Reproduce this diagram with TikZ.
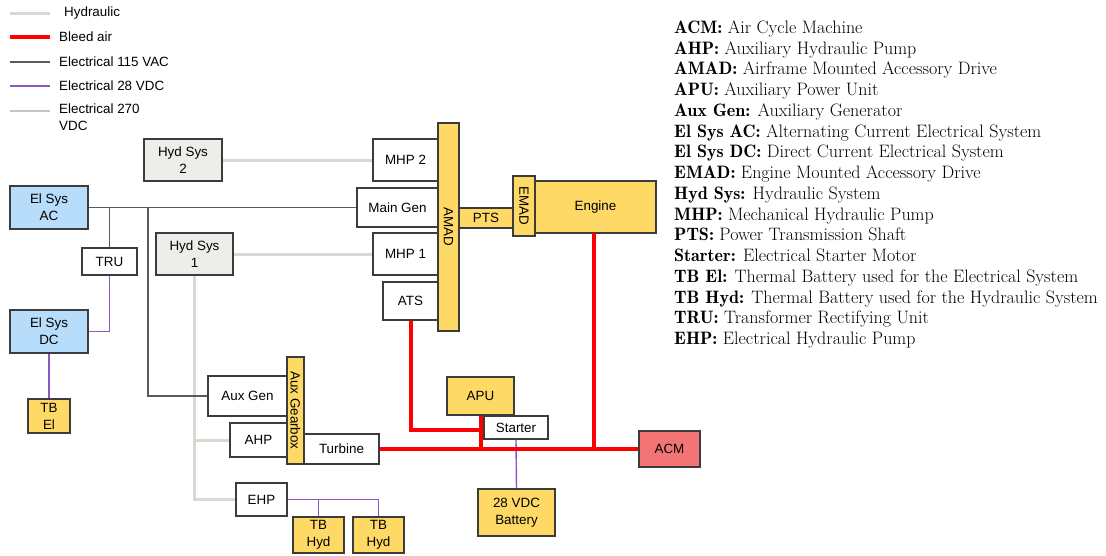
\documentclass[tikz,border=0pt]{standalone}
\usepackage{fontspec}
\setsansfont{Liberation Sans}
\newfontfamily\lmdemi{Latin Modern Roman Demi}
\definecolor{hydc}{HTML}{D9D9D4}
\definecolor{elc}{HTML}{C4C4C0}
\definecolor{acc}{HTML}{5A5A5A}
\definecolor{dcc}{HTML}{8A58C6}
\definecolor{bleedc}{HTML}{FF0000}
\definecolor{yel}{HTML}{FFD966}
\definecolor{blu}{HTML}{B8DDFB}
\definecolor{gry}{HTML}{EDEDEA}
\definecolor{acmc}{HTML}{F27475}
\definecolor{bord}{HTML}{3C3C3C}
\tikzset{
  box/.style={draw=bord, line width=1.2pt, inner sep=0pt, align=center,
    font=\sffamily\fontsize{13.4}{17}\selectfont},
  wbox/.style={box, fill=white},
  ybox/.style={box, fill=yel},
  bbox/.style={box, fill=blu},
  gbox/.style={box, fill=gry},
  rbox/.style={box, fill=acmc},
  hydl/.style={draw=hydc, line width=3pt},
  ell/.style={draw=elc, line width=2.2pt},
  acl/.style={draw=acc, line width=1.4pt},
  dcl/.style={draw=dcc, line width=1.4pt},
  bleedl/.style={draw=bleedc, line width=4pt},
  legtxt/.style={anchor=west, inner sep=0pt, align=left,
    font=\sffamily\fontsize{13.4}{17}\selectfont}
}
\newcommand\bx[7]{\node[#6, minimum width={(#4-#2)*1pt}, minimum height={(#5-#3)*1pt}] (#1) at ({(#2+#4)/2},{(#3+#5)/2}) {#7};}
\newcommand\ab[1]{{\lmdemi #1}}
\begin{document}
\begin{tikzpicture}[x=1pt,y=-1pt]
\useasboundingbox (0,0) rectangle (1106,555);
% legend (left)
\coordinate (l1a) at (10,13); \coordinate (l1b) at (50,13);
\coordinate (l2a) at (10,37); \coordinate (l2b) at (50,37);
\coordinate (l3a) at (10,62); \coordinate (l3b) at (50,62);
\coordinate (l4a) at (10,86); \coordinate (l4b) at (50,86);
\coordinate (l5a) at (10,111); \coordinate (l5b) at (50,111);
\draw[hydl] (l1a) -- (l1b);
\draw[bleedl] (l2a) -- (l2b);
\draw[acl] (l3a) -- (l3b);
\draw[dcl] (l4a) -- (l4b);
\draw[ell] (l5a) -- (l5b);
\node[legtxt] (t1) at (64,13) {Hydraulic};
\node[legtxt] (t2) at (59,37) {Bleed air};
\node[legtxt] (t3) at (59,62) {Electrical 115 VAC};
\node[legtxt] (t4) at (59,86) {Electrical 28 VDC};
\node[legtxt, anchor=north west] (t5) at (59,104) {Electrical 270\\VDC};
% abbreviations
\node[anchor=north west, inner sep=0pt, align=left, font=\fontsize{18}{20.73}\selectfont] (abbr) at (674,20.6) {%
\ab{ACM:} Air Cycle Machine\\
\ab{AHP:} Auxiliary Hydraulic Pump\\
\ab{AMAD:} Airframe Mounted Accessory Drive\\
\ab{APU:} Auxiliary Power Unit\\
\ab{Aux Gen:} Auxiliary Generator\\
\ab{El Sys AC:} Alternating Current Electrical System\\
\ab{El Sys DC:} Direct Current Electrical System\\
\ab{EMAD:} Engine Mounted Accessory Drive\\
\ab{Hyd Sys:} Hydraulic System\\
\ab{MHP:} Mechanical Hydraulic Pump\\
\ab{PTS:} Power Transmission Shaft\\
\ab{Starter:} Electrical Starter Motor\\
\ab{TB El:} Thermal Battery used for the Electrical System\\
\ab{TB Hyd:} Thermal Battery used for the Hydraulic System\\
\ab{TRU:} Transformer Rectifying Unit\\
\ab{EHP:} Electrical Hydraulic Pump};
% boxes
\bx{hs2}{144}{139}{222}{181}{gbox}{Hyd Sys\\2}
\bx{elac}{10}{186}{88}{229}{bbox}{El Sys\\AC}
\bx{tru}{82}{248}{137}{275}{wbox}{TRU}
\bx{hs1}{156}{233}{233}{275}{gbox}{Hyd Sys\\1}
\bx{eldc}{10}{310}{88}{353}{bbox}{El Sys\\DC}
\bx{tbel}{28}{399}{70}{433}{ybox}{TB\\El}
\bx{mhp2}{373}{139}{438}{181}{wbox}{MHP 2}
\bx{maingen}{357}{188}{438}{227}{wbox}{Main Gen}
\bx{mhp1}{373}{233}{438}{275}{wbox}{MHP 1}
\bx{ats}{383}{282}{438}{320}{wbox}{ATS}
\bx{amad}{438}{123}{459}{331}{ybox}{\rotatebox{-90}{AMAD}}
\bx{pts}{459}{208}{513}{228}{ybox}{PTS}
\bx{engine}{535}{181}{656}{233}{ybox}{Engine}
\bx{emad}{513}{176}{535}{236}{ybox}{\rotatebox{-90}{EMAD}}
\bx{auxgen}{208}{376}{287}{416}{wbox}{Aux Gen}
\bx{ahp}{230}{423}{287}{457}{wbox}{AHP}
\bx{turbine}{304}{434}{379}{464}{wbox}{Turbine}
\bx{auxgb}{287}{357}{304}{464}{ybox}{\rotatebox{-90}{Aux Gearbox}}
\bx{ehp}{236}{483}{287}{516}{wbox}{EHP}
\bx{tbh1}{293}{517}{344}{553}{ybox}{TB\\Hyd}
\bx{tbh2}{353}{517}{404}{553}{ybox}{TB\\Hyd}
\bx{apu}{447}{377}{514}{415}{ybox}{APU}
\bx{starter}{484}{416}{548}{439}{wbox}{Starter}
\bx{acm}{639}{431}{700}{467}{rbox}{ACM}
\bx{batt}{478}{489}{555}{536}{ybox}{28 VDC\\Battery}
% connectors
\coordinate (jaux) at (148,207.5);
\coordinate (jats) at (480.5,430);
\coordinate (jeng) at (594,233);
\draw[hydl] (hs2.east) -- (mhp2.west);
\draw[hydl] (hs1.east) -- (mhp1.west);
\draw[hydl] (hs1.south) |- (ehp.west);
\draw[hydl] (hs1.south |- ahp.west) -- (ahp.west);
\draw[acl] (elac.east) -- (maingen.west);
\draw[acl] (tru.north |- elac.east) -- (tru.north);
\draw[acl] (jaux) |- (auxgen.west);
\draw[dcl] (tru.south) |- (eldc.east);
\draw[dcl] (eldc.south) -- (tbel.north);
\draw[dcl] (ehp.east) -| (tbh2.north);
\draw[dcl] (tbh1.north |- ehp.east) -- (tbh1.north);
\draw[dcl] (starter.south) -- (batt.north);
\draw[bleedl] (turbine.east) -- (acm.west);
\draw[bleedl] (jeng) -- (jeng |- acm.west);
\draw[bleedl] (ats.south) |- (jats);
\draw[bleedl] (apu.south) -- (apu.south |- acm.west);
\end{tikzpicture}
\end{document}
